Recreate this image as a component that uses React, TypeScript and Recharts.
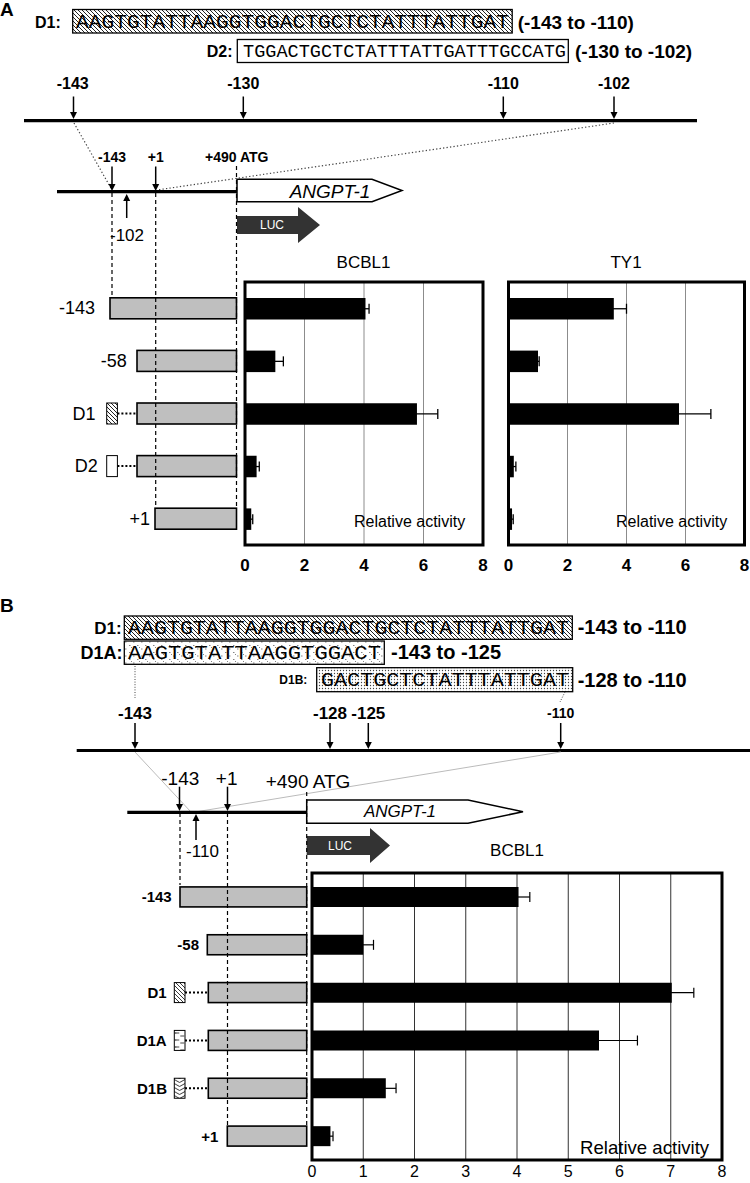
import React from 'react';
import { BarChart, Bar, XAxis, YAxis, CartesianGrid, ErrorBar, ReferenceArea } from 'recharts';

// ---------- data ----------
const constructsA = ['-143', '-58', 'D1', 'D2', '+1'];
const bcbl1AValues = [4.05, 1.02, 5.78, 0.39, 0.21];
const bcbl1AErrors = [0.12, 0.27, 0.7, 0.09, 0.05];
const ty1AValues = [3.57, 1.0, 5.78, 0.18, 0.12];
const ty1AErrors = [0.43, 0.04, 1.08, 0.07, 0.04];
const ticksA = [0, 2, 4, 6, 8];

const constructsB = ['-143', '-58', 'D1', 'D1A', 'D1B', '+1'];
const bcbl1BValues = [4.03, 1.0, 7.02, 5.6, 1.44, 0.36];
const bcbl1BErrors = [0.22, 0.2, 0.43, 0.75, 0.2, 0.05];
const ticksB = [0, 1, 2, 3, 4, 5, 6, 7, 8];

const seqD1 = 'AAGTGTATTAAGGTGGACTGCTCTATTTATTGAT';
const seqD2 = 'TGGACTGCTCTATTTATTGATTTGCCATG';
const seqD1A = 'AAGTGTATTAAGGTGGACT';
const seqD1B = 'GACTGCTCTATTTATTGAT';

const dataA1 = constructsA.map((name, i) => ({ name, v: bcbl1AValues[i], e: bcbl1AErrors[i] }));
const dataA2 = constructsA.map((name, i) => ({ name, v: ty1AValues[i], e: ty1AErrors[i] }));
const dataB = constructsB.map((name, i) => ({ name, v: bcbl1BValues[i], e: bcbl1BErrors[i] }));

const SANS = "'Liberation Sans', Arial, sans-serif";
const MONO = "'Liberation Mono', 'DejaVu Sans Mono', monospace";

// ---------- schematic layout (styles/positions) ----------
const layoutA: Record<string, any> = {
  '-143': { lx: 95, start: 110 },
  '-58': { lx: 126.7, start: 137 },
  D1: { lx: 95.5, box: 'url(#hatch)', bx: 106.7, start: 137 },
  D2: { lx: 97.7, box: '#fff', bx: 106.7, start: 137 },
  '+1': { lx: 150, start: 155 },
};
const layoutB: Record<string, any> = {
  '-143': { lx: 171.7, start: 180 },
  '-58': { lx: 199, start: 207.3 },
  D1: { lx: 166.7, box: 'url(#hatchS)', bx: 174.3, start: 208.3 },
  D1A: { lx: 166.7, box: 'url(#d1aS)', bx: 174.3, start: 208.3 },
  D1B: { lx: 167, box: 'url(#chev)', bx: 174.3, start: 208.3 },
  '+1': { lx: 218.3, start: 227.3 },
};

const ConstructTick = (props: any) => {
  const { y, payload, layout, end, h, fontSize, fontWeight } = props;
  const lay = layout[payload.value];
  return (
    <g>
      <text x={lay.lx} y={y} dominantBaseline="central" textAnchor="end" fontFamily={SANS}
        fontSize={fontSize} fontWeight={fontWeight} fill="#000">{payload.value}</text>
      {lay.box && (
        <rect x={lay.bx} y={y - h / 2} width={10.7} height={h} fill={lay.box} stroke="#000" strokeWidth={1} />
      )}
      {lay.box && (
        <line x1={lay.bx + 10.7} x2={lay.start} y1={y} y2={y} stroke="#000" strokeWidth={2} strokeDasharray="2 2" />
      )}
      <rect x={lay.start} y={y - h / 2} width={end - lay.start} height={h} fill="#bfbfbf" stroke="#000" strokeWidth={1.6} />
    </g>
  );
};

const ArrowDown = ({ x, y1, y2 }: any) => (
  <g>
    <line x1={x} x2={x} y1={y1} y2={y2 - 6} stroke="#000" strokeWidth={1.5} />
    <polygon points={`${x - 3.5},${y2 - 7} ${x + 3.5},${y2 - 7} ${x},${y2}`} fill="#000" />
  </g>
);
const ArrowUp = ({ x, y1, y2 }: any) => (
  <g>
    <line x1={x} x2={x} y1={y1} y2={y2 + 6} stroke="#000" strokeWidth={1.5} />
    <polygon points={`${x - 3.5},${y2 + 7} ${x + 3.5},${y2 + 7} ${x},${y2}`} fill="#000" />
  </g>
);
const T = ({ x, y, size = 16, weight = 'normal', anchor = 'start', italic = false, fill = '#000', children, fam = SANS }: any) => (
  <text x={x} y={y} fontSize={size} fontWeight={weight} textAnchor={anchor} dominantBaseline="central"
    fontStyle={italic ? 'italic' : 'normal'} fontFamily={fam} fill={fill}>{children}</text>
);
const Dashed = ({ x, y1, y2 }: any) => (
  <line x1={x} x2={x} y1={y1} y2={y2} stroke="#000" strokeWidth={1.2} strokeDasharray="4 3" />
);
const Seq = ({ x, y, len, size, children }: any) => (
  <text x={x} y={y} fontSize={size} fontFamily={MONO} dominantBaseline="central" textLength={len}
    lengthAdjust="spacingAndGlyphs" fill="#000">{children}</text>
);

const Overlay = () => (
  <svg width={750} height={1183} style={{ position: 'absolute', left: 0, top: 0, pointerEvents: 'none' }}>
    <defs>
      <pattern id="hatch" width="4" height="4" patternUnits="userSpaceOnUse">
        <rect width="4" height="4" fill="#fff" />
        <path d="M-1,-1 L5,5 M-1,3 L1,5 M3,-1 L5,1" stroke="#222" strokeWidth="1" />
      </pattern>
      <pattern id="hatchS" width="4" height="4" patternUnits="userSpaceOnUse">
        <rect width="4" height="4" fill="#fff" />
        <path d="M-1,-1 L5,5 M-1,3 L1,5 M3,-1 L5,1" stroke="#222" strokeWidth="0.9" />
      </pattern>
      <pattern id="dots" width="3" height="3" patternUnits="userSpaceOnUse">
        <rect width="3" height="3" fill="#fff" />
        <circle cx="1.5" cy="1.5" r="0.65" fill="#444" />
      </pattern>
      <pattern id="d1a" width="8" height="7" patternUnits="userSpaceOnUse">
        <rect width="8" height="7" fill="#fff" />
        <path d="M1,1.5 h1.5 M5,5 h1.5 M3,3 l1,1" stroke="#777" strokeWidth="0.9" />
      </pattern>
      <pattern id="d1aS" width="10.7" height="7" patternUnits="userSpaceOnUse" x="174.3">
        <rect width="10.7" height="7" fill="#fff" />
        <path d="M1,1 v2 M1,2 h4 M6,5 h4" stroke="#333" strokeWidth="0.9" />
      </pattern>
      <pattern id="chev" width="10.7" height="4" patternUnits="userSpaceOnUse" x="174.3">
        <rect width="10.7" height="4" fill="#fff" />
        <path d="M0,0.5 L5.3,3.5 L10.7,0.5" stroke="#222" strokeWidth="0.9" fill="none" />
      </pattern>
    </defs>

    {/* ---------------- Panel A ---------------- */}
    <T x={0} y={9} size={19} weight="bold">A</T>
    <T x={35} y={22} size={16} weight="bold">D1:</T>
    <rect x={72.7} y={9.5} width={439.5} height={23.5} fill="url(#hatch)" stroke="#000" strokeWidth={1.3} />
    <Seq x={76} y={22} len={433} size={21}>{seqD1}</Seq>
    <T x={517.7} y={22} size={19} weight="bold">(-143 to -110)</T>

    <T x={206.7} y={51.5} size={16} weight="bold">D2:</T>
    <rect x={237.3} y={39.5} width={331} height={23} fill="#fff" stroke="#000" strokeWidth={1.3} />
    <Seq x={243} y={51.5} len={323} size={19}>{seqD2}</Seq>
    <T x={575} y={51} size={19} weight="bold">(-130 to -102)</T>

    <T x={72.7} y={83} size={16} weight="bold" anchor="middle">-143</T>
    <T x={243.3} y={83} size={16} weight="bold" anchor="middle">-130</T>
    <T x={503.3} y={83} size={16} weight="bold" anchor="middle">-110</T>
    <T x={614} y={83} size={16} weight="bold" anchor="middle">-102</T>
    <ArrowDown x={73.5} y1={96.5} y2={119} />
    <ArrowDown x={243.3} y1={96.5} y2={119} />
    <ArrowDown x={503.3} y1={96.5} y2={119} />
    <ArrowDown x={614} y1={96.5} y2={119} />
    <line x1={24} x2={697} y1={120.7} y2={120.7} stroke="#000" strokeWidth={3.2} />
    <line x1={74} y1={123} x2={112} y2={190} stroke="#444" strokeWidth={1.2} strokeDasharray="1.3 2.2" />
    <line x1={614} y1={123} x2={157} y2={190} stroke="#444" strokeWidth={1.2} strokeDasharray="1.3 2.2" />

    <T x={112} y={156.7} size={14} weight="bold" anchor="middle">-143</T>
    <T x={155.7} y={156.7} size={14} weight="bold" anchor="middle">+1</T>
    <T x={205} y={156.7} size={14} weight="bold">+490 ATG</T>
    <ArrowDown x={112} y1={166.5} y2={191} />
    <ArrowDown x={155.7} y1={166.5} y2={191} />
    <line x1={57} x2={237} y1={191.7} y2={191.7} stroke="#000" strokeWidth={3.2} />
    <ArrowUp x={126.7} y1={218} y2={194} />
    <T x={127} y={235} size={17} anchor="middle">-102</T>
    <polygon points="237,179.3 372,179.3 402,190.5 372,201.7 237,201.7" fill="#fff" stroke="#000" strokeWidth={1.5} />
    <T x={330} y={191} size={19} italic anchor="middle">ANGPT-1</T>
    <polygon points="237,216 298,216 298,207 320,225 298,243 298,234 237,234" fill="#333" />
    <T x={272} y={225} size={12} anchor="middle" fill="#fff">LUC</T>
    <Dashed x={112} y1={193} y2={297} />
    <Dashed x={155.7} y1={193} y2={509} />
    <Dashed x={236.5} y1={166} y2={509} />

    <T x={363.5} y={262} size={17} anchor="middle">BCBL1</T>
    <T x={626} y={262} size={17} anchor="middle">TY1</T>
    <T x={354} y={521.7} size={16}>Relative activity</T>
    <T x={616} y={521.7} size={16}>Relative activity</T>

    {/* ---------------- Panel B ---------------- */}
    <T x={0} y={605} size={19} weight="bold">B</T>
    <T x={121.7} y={628} size={17} weight="bold" anchor="end">D1:</T>
    <rect x={124.3} y={616} width={448} height={23.3} fill="url(#hatch)" stroke="#000" strokeWidth={1.3} />
    <Seq x={128} y={628} len={441} size={21}>{seqD1}</Seq>
    <T x={577.7} y={627} size={20} weight="bold">-143 to -110</T>

    <T x={122.5} y={653} size={18} weight="bold" anchor="end">D1A:</T>
    <rect x={124.3} y={641} width={260} height={23.3} fill="url(#d1a)" stroke="#000" strokeWidth={1.3} />
    <Seq x={128} y={653} len={253} size={21}>{seqD1A}</Seq>
    <T x={391} y={652} size={20} weight="bold">-143 to -125</T>

    <T x={279.3} y={680} size={12} weight="bold">D1B:</T>
    <rect x={316.7} y={667.7} width={256} height={24} fill="url(#dots)" stroke="#000" strokeWidth={1.3} />
    <Seq x={321} y={680} len={248} size={21}>{seqD1B}</Seq>
    <T x={577.7} y={680} size={20} weight="bold">-128 to -110</T>
    <line x1={135} x2={135} y1={666} y2={698} stroke="#444" strokeWidth={1} strokeDasharray="1 1.6" />
    <line x1={565} x2={560} y1={692} y2={702} stroke="#444" strokeWidth={1} strokeDasharray="1 1.6" />

    <T x={135} y={713.3} size={17} weight="bold" anchor="middle">-143</T>
    <T x={330} y={713.3} size={17} weight="bold" anchor="middle">-128</T>
    <T x={368.3} y={713.3} size={17} weight="bold" anchor="middle">-125</T>
    <T x={560.7} y={713.3} size={14} weight="bold" anchor="middle">-110</T>
    <ArrowDown x={135} y1={723} y2={749} />
    <ArrowDown x={330} y1={723} y2={749} />
    <ArrowDown x={368.3} y1={723} y2={749} />
    <ArrowDown x={560.7} y1={723} y2={749} />
    <line x1={76.7} x2={750} y1={750.5} y2={750.5} stroke="#000" strokeWidth={3.2} />
    <line x1={135} y1={752} x2={191} y2={812} stroke="#bbb" strokeWidth={1} />
    <line x1={560.7} y1={752} x2={195} y2={812} stroke="#bbb" strokeWidth={1} />

    <T x={180.3} y={778.3} size={19} anchor="middle">-143</T>
    <T x={226.7} y={778.3} size={19} anchor="middle">+1</T>
    <T x={265.7} y={781.7} size={19}>+490 ATG</T>
    <ArrowDown x={179.5} y1={786.7} y2={811} />
    <ArrowDown x={227.5} y1={786.7} y2={811} />
    <line x1={127.3} x2={306.7} y1={812.3} y2={812.3} stroke="#000" strokeWidth={3.2} />
    <ArrowUp x={196} y1={840} y2={814} />
    <T x={202.5} y={851.7} size={17} anchor="middle">-110</T>
    <polygon points="306.7,800 468,800 523,811.7 468,823.3 306.7,823.3" fill="#fff" stroke="#000" strokeWidth={1.5} />
    <T x={400} y={811.7} size={17} italic anchor="middle">ANGPT-1</T>
    <polygon points="306.7,836 370,836 370,828 390,845.5 370,863 370,855 306.7,855" fill="#333" />
    <T x={340} y={846} size={12} anchor="middle" fill="#fff">LUC</T>
    <T x={517} y={850} size={17} anchor="middle">BCBL1</T>
    <Dashed x={180} y1={813} y2={885} />
    <Dashed x={227.5} y1={813} y2={1128} />
    <Dashed x={306.7} y1={792} y2={1128} />
    <T x={580} y={1147} size={18.6}>Relative activity</T>
  </svg>
);

export default function App() {
  return (
    <div style={{ position: 'absolute', left: 0, top: 0, width: 750, height: 1183, overflow: 'hidden', background: '#fff' }}>
      {/* Panel A, BCBL1 */}
      <div style={{ position: 'absolute', left: 0, top: 272 }}>
        <BarChart width={490} height={313} data={dataA1} layout="vertical" margin={{ top: 10, right: 7, left: 0, bottom: 0 }} barSize={21.5}>
          <CartesianGrid horizontal={false} stroke="#8c8c8c" strokeWidth={1} />
          <XAxis type="number" domain={[0, 8]} ticks={ticksA} height={40} axisLine={false} tickLine={false} tickSize={0} tickMargin={14}
            tick={{ fontSize: 17, fontWeight: 'bold', fill: '#000', fontFamily: SANS }} interval={0} />
          <YAxis type="category" dataKey="name" width={245} axisLine={false} tickLine={false} tickSize={0} tickMargin={0} interval={0}
            tick={(p: any) => <ConstructTick {...p} layout={layoutA} end={236.5} h={21} fontSize={18} fontWeight="normal" />} />
          <Bar dataKey="v" fill="#000" isAnimationActive={false}>
            <ErrorBar dataKey="e" direction="x" width={5} stroke="#000" strokeWidth={1.3} />
          </Bar>
          <ReferenceArea x1={0} x2={8} fill="none" fillOpacity={0} stroke="#000" strokeWidth={3} ifOverflow="visible" />
        </BarChart>
      </div>
      {/* Panel A, TY1 */}
      <div style={{ position: 'absolute', left: 500, top: 272 }}>
        <BarChart width={250} height={313} data={dataA2} layout="vertical" margin={{ top: 10, right: 5.5, left: 8.5, bottom: 0 }} barSize={21.5}>
          <CartesianGrid horizontal={false} stroke="#8c8c8c" strokeWidth={1} />
          <XAxis type="number" domain={[0, 8]} ticks={ticksA} height={40} axisLine={false} tickLine={false} tickSize={0} tickMargin={14}
            tick={{ fontSize: 17, fontWeight: 'bold', fill: '#000', fontFamily: SANS }} interval={0} />
          <YAxis type="category" dataKey="name" hide width={0} />
          <Bar dataKey="v" fill="#000" isAnimationActive={false}>
            <ErrorBar dataKey="e" direction="x" width={5} stroke="#000" strokeWidth={1.3} />
          </Bar>
          <ReferenceArea x1={0} x2={8} fill="none" fillOpacity={0} stroke="#000" strokeWidth={3} ifOverflow="visible" />
        </BarChart>
      </div>
      {/* Panel B, BCBL1 */}
      <div style={{ position: 'absolute', left: 0, top: 863 }}>
        <BarChart width={730} height={320} data={dataB} layout="vertical" margin={{ top: 10, right: 8, left: 0, bottom: 0 }} barSize={20}>
          <CartesianGrid horizontal={false} stroke="#333" strokeWidth={1} />
          <XAxis type="number" domain={[0, 8]} ticks={ticksB} height={23} axisLine={false} tickLine={false} tickSize={0} tickMargin={6}
            tick={{ fontSize: 16, fill: '#000', fontFamily: SANS }} interval={0} />
          <YAxis type="category" dataKey="name" width={312} axisLine={false} tickLine={false} tickSize={0} tickMargin={0} interval={0}
            tick={(p: any) => <ConstructTick {...p} layout={layoutB} end={306.7} h={20} fontSize={15} fontWeight="bold" />} />
          <Bar dataKey="v" fill="#000" isAnimationActive={false}>
            <ErrorBar dataKey="e" direction="x" width={5} stroke="#000" strokeWidth={1.2} />
          </Bar>
          <ReferenceArea x1={0} x2={8} fill="none" fillOpacity={0} stroke="#000" strokeWidth={3} ifOverflow="visible" />
        </BarChart>
      </div>
      <Overlay />
    </div>
  );
}
